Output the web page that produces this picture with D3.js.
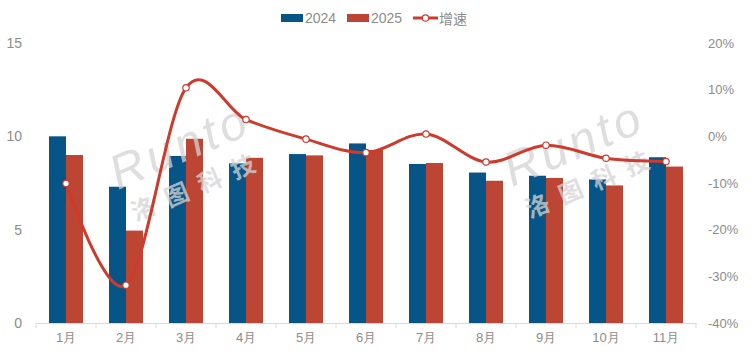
<!DOCTYPE html>
<html>
<head>
<meta charset="utf-8">
<script src="https://cdn.jsdelivr.net/npm/d3@7"></script>
<style>
  body { margin: 0; background: #fff; }
  svg { display: block; font-family: "Noto Sans CJK SC", "Liberation Sans", sans-serif; }
</style>
</head>
<body>
<svg id="chart"></svg>
<script>
// data
let months = ["1月", "2月", "3月", "4月", "5月", "6月", "7月", "8月", "9月", "10月", "11月"];
let sales2024 = [10.0, 7.3, 8.95, 8.55, 9.05, 9.62, 8.52, 8.06, 7.89, 7.69, 8.88];
let sales2025 = [9.0, 4.95, 9.87, 8.85, 8.98, 9.27, 8.57, 7.62, 7.77, 7.37, 8.38];
let growth = [-10.1, -31.9, 10.4, 3.6, -0.6, -3.5, 0.5, -5.5, -1.9, -4.7, -5.4];
let leftTicks = [0, 5, 10, 15];
let rightTicks = [-40, -30, -20, -10, 0, 10, 20];

let width = 756, height = 351;
let margin = { top: 43, right: 60, bottom: 28, left: 36 };

let blue = "#075487", red = "#BD4533", lineRed = "#CE3A2C", grey = "#8c8c8c";

var svg = d3.select("#chart").attr("width", width).attr("height", height);

var x = d3.scaleBand()
    .domain(months)
    .range([margin.left, width - margin.right]);

var y = d3.scaleLinear()
    .domain([0, 15])
    .range([height - margin.bottom, margin.top]);

var y2 = d3.scaleLinear()
    .domain([-40, 20])
    .range([height - margin.bottom, margin.top]);

var barW = 17;

// bars
var groups = svg.append("g").selectAll("g")
    .data(months)
    .join("g");

groups.append("rect")
    .attr("x", (d) => x(d) + x.bandwidth() / 2 - barW)
    .attr("width", barW)
    .attr("y", (d, i) => y(sales2024[i]))
    .attr("height", (d, i) => y(0) - y(sales2024[i]))
    .attr("fill", blue);

groups.append("rect")
    .attr("x", (d) => x(d) + x.bandwidth() / 2)
    .attr("width", barW)
    .attr("y", (d, i) => y(sales2025[i]))
    .attr("height", (d, i) => y(0) - y(sales2025[i]))
    .attr("fill", red);

// watermark
function watermark(cx, cy) {
    var g = svg.append("g")
        .attr("transform", "translate(" + cx + "," + cy + ") rotate(-23)")
        .attr("fill", "#d4d4d4")
        .attr("opacity", 0.75);
    g.append("text")
        .attr("x", 0).attr("y", 0)
        .attr("font-size", 48)
        .attr("font-style", "italic")
        .attr("font-family", "Liberation Sans, sans-serif")
        .attr("letter-spacing", 4)
        .text("Runto");
    g.append("text")
        .attr("x", 4).attr("y", 36)
        .attr("font-size", 24)
        .attr("font-weight", "bold")
        .attr("letter-spacing", 12)
        .text("洛图科技");
}
watermark(118, 190);
watermark(512, 187);

// x axis
var xAxis = svg.append("g")
    .attr("transform", "translate(0," + y(0) + ")")
    .call(d3.axisBottom(x).tickSize(0).tickPadding(10));
xAxis.select(".domain").attr("stroke", "#d9d9d9");
xAxis.selectAll("text").attr("fill", grey).attr("font-size", 13);

// category separator ticks
svg.append("g").selectAll("line")
    .data(d3.range(months.length + 1))
    .join("line")
    .attr("x1", (i) => margin.left + i * x.step())
    .attr("x2", (i) => margin.left + i * x.step())
    .attr("y1", y(0))
    .attr("y2", y(0) + 5)
    .attr("stroke", "#d9d9d9");

// left axis
var yAxis = svg.append("g")
    .attr("transform", "translate(" + (margin.left - 14) + ",0)")
    .call(d3.axisLeft(y).tickValues(leftTicks).tickSize(0).tickPadding(0));
yAxis.select(".domain").remove();
yAxis.selectAll("text").attr("fill", grey).attr("font-size", 14)
    .attr("font-family", "Liberation Sans, sans-serif");

// right axis
var y2Axis = svg.append("g")
    .attr("transform", "translate(" + (width - margin.right + 12) + ",0)")
    .call(d3.axisRight(y2).tickValues(rightTicks).tickSize(0).tickPadding(0)
        .tickFormat((d) => d + "%"));
y2Axis.select(".domain").remove();
y2Axis.selectAll("text").attr("fill", grey).attr("font-size", 13)
    .attr("font-family", "Liberation Sans Narrow, Liberation Sans, sans-serif");

// growth line
var line = d3.line()
    .x((d, i) => x(months[i]) + x.bandwidth() / 2)
    .y((d) => y2(d))
    .curve(d3.curveCatmullRom.alpha(0));

svg.append("path")
    .datum(growth)
    .attr("d", line)
    .attr("fill", "none")
    .attr("stroke", lineRed)
    .attr("stroke-width", 3);

svg.append("g").selectAll("circle")
    .data(growth)
    .join("circle")
    .attr("cx", (d, i) => x(months[i]) + x.bandwidth() / 2)
    .attr("cy", (d) => y2(d))
    .attr("r", 3.2)
    .attr("fill", "#fff")
    .attr("stroke", lineRed)
    .attr("stroke-width", 1.2);

// legend
var legend = svg.append("g").attr("font-size", 14).attr("fill", grey);
legend.append("rect").attr("x", 281).attr("y", 14).attr("width", 22).attr("height", 8).attr("fill", blue);
legend.append("text").attr("x", 305).attr("y", 23).attr("font-family", "Liberation Sans, sans-serif").text("2024");
legend.append("rect").attr("x", 347).attr("y", 14).attr("width", 22).attr("height", 8).attr("fill", red);
legend.append("text").attr("x", 371).attr("y", 23).attr("font-family", "Liberation Sans, sans-serif").text("2025");
legend.append("line").attr("x1", 413).attr("x2", 438).attr("y1", 18).attr("y2", 18)
    .attr("stroke", lineRed).attr("stroke-width", 3);
legend.append("circle").attr("cx", 425.5).attr("cy", 18).attr("r", 3.2)
    .attr("fill", "#fff").attr("stroke", lineRed).attr("stroke-width", 1.2);
legend.append("text").attr("x", 439).attr("y", 24).text("增速");
</script>
</body>
</html>
